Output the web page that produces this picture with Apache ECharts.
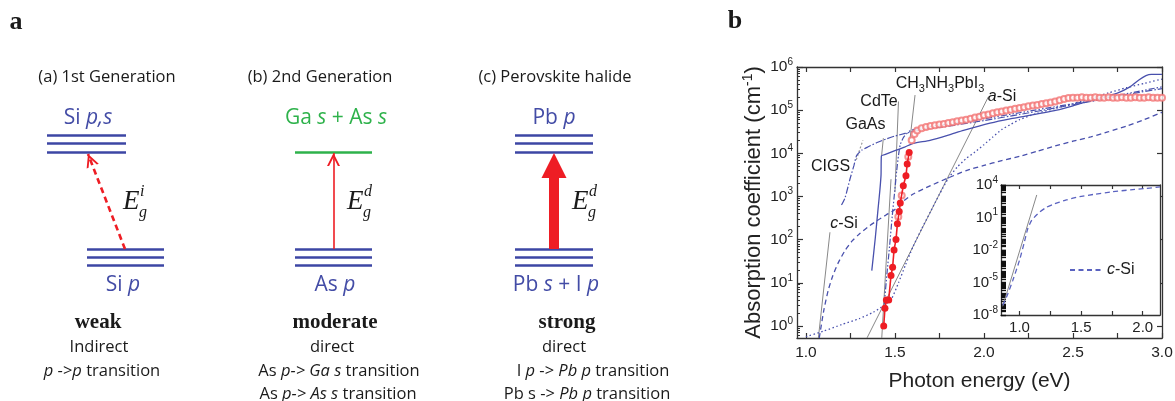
<!DOCTYPE html>
<html>
<head>
<meta charset="utf-8">
<title>Band structure and absorption edges</title>
<script src="https://cdn.jsdelivr.net/npm/echarts@6.0.0/dist/echarts.min.js"></script>
<style>
  html, body { margin: 0; padding: 0; background: #fff; }
  #chart { width: 1175px; height: 401px; }
</style>
</head>
<body>
<div id="chart"></div>
<script>
// ---- panel a: schematic levels ----
const diagramTitles = ['(a) 1st Generation', '(b) 2nd Generation', '(c) Perovskite halide'];
const upperStates = ['Si {i|p,s}', 'Ga {i|s} + As {i|s}', 'Pb {i|p}'];
const lowerStates = ['Si {i|p}', 'As {i|p}', 'Pb {i|s} + I {i|p}'];
const upperLineCount = [3, 1, 3];
const gapLabels = ['i', 'd', 'd'];
const strengths = ['weak', 'moderate', 'strong'];
const gapTypes = ['Indirect', 'direct', 'direct'];
const transitions = [
  ['{i|p} ->{i|p} transition'],
  ['As {i|p->} {i|Ga s} transition', 'As {i|p->} {i|As s} transition'],
  ['I {i|p} -> {i|Pb p} transition', 'Pb s -> {i|Pb p} transition']
];

// ---- panel b: [photon energy (eV), log10 absorption coefficient (cm-1)] ----
const energyLabels = [1.0, 1.5, 2.0, 2.5, 3.0];
const energyTicks = [1.0, 1.25, 1.5, 1.75, 2.0, 2.25, 2.5, 2.75, 3.0];
const decades = [0, 1, 2, 3, 4, 5, 6];
const insetEnergyLabels = [1.0, 1.5, 2.0];
const insetEnergyTicks = [1.0, 1.25, 1.5, 1.75, 2.0];
const insetDecades = [-8, -5, -2, 1, 4];

const cSi = [[1.075,-0.28],[1.10,0.35],[1.125,0.82],[1.15,1.15],[1.18,1.45],[1.22,1.75],[1.26,1.97],[1.30,2.13],[1.35,2.3],[1.40,2.44],[1.45,2.57],[1.50,2.7],[1.55,2.9],[1.60,3.05],[1.70,3.25],[1.80,3.43],[1.90,3.6],[2.00,3.72],[2.10,3.83],[2.20,3.93],[2.30,4.05],[2.40,4.17],[2.50,4.28],[2.60,4.38],[2.70,4.5],[2.80,4.63],[2.90,4.78],[3.00,4.95]];
const aSi = [[1.0,-0.25],[1.1,-0.12],[1.2,0.03],[1.3,0.17],[1.38,0.32],[1.44,0.48],[1.48,0.62],[1.52,1.0],[1.56,1.42],[1.6,1.82],[1.65,2.25],[1.7,2.65],[1.75,3.05],[1.8,3.42],[1.85,3.68],[1.9,3.88],[1.95,4.03],[2.0,4.2],[2.05,4.38],[2.1,4.55],[2.15,4.67],[2.2,4.78],[2.3,4.93],[2.4,5.04],[2.5,5.15],[2.6,5.27],[2.7,5.4],[2.8,5.52],[2.9,5.62],[3.0,5.72]];
const gaAs = [[1.37,1.28],[1.39,2.05],[1.405,2.7],[1.416,3.17],[1.422,3.5],[1.424,3.94],[1.45,3.98],[1.5,4.06],[1.557,4.15],[1.604,4.23],[1.697,4.3],[1.8,4.42],[1.885,4.53],[2.034,4.7],[2.147,4.8],[2.22,4.85],[2.409,5.0],[2.5,5.1],[2.596,5.22],[2.746,5.39],[2.82,5.54],[2.87,5.7],[2.91,5.8],[2.94,5.83],[3.0,5.83]];
const cdTe = [[1.44,0.5],[1.455,1.2],[1.47,1.85],[1.485,2.55],[1.5,3.17],[1.51,3.6],[1.52,3.95],[1.53,4.2],[1.55,4.38],[1.585,4.52],[1.66,4.6],[1.8,4.68],[1.9,4.73],[2.0,4.8],[2.2,4.94],[2.4,5.08],[2.6,5.22],[2.8,5.38],[3.0,5.54]];
const cigs = [[1.2,2.8],[1.22,2.97],[1.248,3.41],[1.27,3.72],[1.285,3.95],[1.313,4.07],[1.35,4.15],[1.4,4.25],[1.45,4.33],[1.5,4.4],[1.557,4.46],[1.65,4.55],[1.8,4.63],[2.0,4.76],[2.2,4.9],[2.4,5.05],[2.6,5.2],[2.8,5.36],[3.0,5.5]];
const mapiFilled = [[1.437,0.0],[1.444,0.41],[1.452,0.6],[1.465,0.6],[1.478,1.17],[1.487,1.36],[1.495,1.76],[1.506,2.0],[1.514,2.37],[1.524,2.65],[1.53,2.85],[1.547,3.25],[1.562,3.48],[1.569,3.75],[1.58,4.02]];
const mapiOpen = [[1.519,2.53],[1.538,3.02],[1.575,3.92],[1.594,4.3],[1.61,4.45],[1.625,4.53],[1.65,4.58],[1.675,4.61],[1.70,4.63],[1.725,4.65],[1.75,4.67],[1.775,4.68],[1.80,4.7],[1.825,4.72],[1.85,4.74],[1.875,4.76],[1.90,4.78],[1.925,4.8],[1.95,4.83],[1.975,4.85],[2.0,4.88],[2.025,4.9],[2.05,4.93],[2.075,4.95],[2.1,4.97],[2.125,4.99],[2.15,5.01],[2.175,5.03],[2.2,5.05],[2.225,5.07],[2.25,5.09],[2.275,5.11],[2.3,5.12],[2.325,5.14],[2.35,5.16],[2.375,5.18],[2.4,5.2],[2.425,5.23],[2.45,5.26],[2.475,5.28],[2.5,5.29],[2.525,5.29],[2.55,5.3],[2.575,5.29],[2.6,5.29],[2.625,5.3],[2.65,5.29],[2.675,5.29],[2.7,5.3],[2.725,5.29],[2.75,5.29],[2.775,5.3],[2.8,5.29],[2.825,5.29],[2.85,5.3],[2.875,5.29],[2.9,5.29],[2.925,5.3],[2.95,5.29],[2.975,5.29],[3.0,5.29]];
// thin grey guide / leader lines
const guides = [
  [[1.07,-0.28],[1.135,2.17]],
  [[1.343,-0.28],[2.025,5.31]],
  [[1.426,-0.28],[1.478,3.4]],
  [[1.50,3.1],[1.52,5.2]],
  [[1.425,3.94],[1.435,4.35]],
  [[1.585,4.34],[1.613,5.35]]
];
const cigsGuide = [[1.283,3.85],[1.32,4.3]];
// inset: c-Si down to 1e-8
const cSiInset = [[0.865,-7.1],[0.9,-6.2],[0.946,-4.8],[1.0,-2.95],[1.04,-1.25],[1.068,0.0],[1.1,0.75],[1.163,1.5],[1.22,1.95],[1.27,2.2],[1.38,2.62],[1.487,2.92],[1.6,3.13],[1.757,3.38],[1.9,3.55],[2.03,3.69],[2.14,3.82]];
const cSiInsetFit = [[0.864,-7.2],[1.14,3.08]];

const SANS_A = 'Open Sans';
const SANS_B = 'Liberation Sans';
const SERIF = 'Liberation Serif';
const BLUE = '#3c46a4';
const GREEN = '#2eb24b';
const RED = '#ee1d24';
const CURVE = '#4850ad';
const AX = '#333';
const TXT = '#1a1a1a';

function label(x, y, str, o) {
  o = o || {};
  const size = o.size || 16, family = o.family || SANS_A, color = o.color || TXT;
  const base = {fontSize: size, fontFamily: family, fill: color, fontWeight: o.weight || 'normal'};
  return {
    type: 'text', x: x, y: y, z: 100, silent: true,
    style: Object.assign({}, base, {
      text: str, fontStyle: o.style || 'normal',
      align: o.align || 'center', verticalAlign: 'middle',
      rich: {
        i: Object.assign({}, base, {fontStyle: 'italic'}),
        sub: Object.assign({}, base, {fontSize: Math.round(size * 0.66), padding: [Math.round(size * 0.6), 0, 0, 0]}),
        sup: Object.assign({}, base, {fontSize: Math.round(size * 0.66), padding: [0, 0, Math.round(size * 0.7), 0]})
      }
    })
  };
}

function logMinor(lo, hi) {
  const out = [];
  for (let n = Math.floor(lo) - 1; n <= Math.ceil(hi); n++) {
    for (let k = 1; k <= 9; k++) {
      const v = n + Math.log10(k);
      if (v >= lo && v <= hi) out.push(v);
    }
  }
  return out;
}

// layout of the three schematics (pixel-like units of the hidden grid)
const cols = [
  {title: 107, up: [47, 126], low: [87, 164], upLabel: 88, lowLabel: 123, tail: [125, 249], tip: [88, 154], E: 123, strength: 98, gap: 99, trans: [102]},
  {title: 320, up: [295, 372], low: [295, 372], upLabel: 336, lowLabel: 335, tail: [333.5, 249], tip: [333.5, 153], E: 347, strength: 335, gap: 332, trans: [339, 338]},
  {title: 555, up: [515, 593], low: [515, 593], upLabel: 554, lowLabel: 556, tail: [554, 249], tip: [554, 153], E: 572, strength: 567, gap: 564, trans: [593, 587]}
];

const levelSegs = [];
const graphics = [];
cols.forEach((c, i) => {
  const ups = upperLineCount[i] === 3 ? [135, 143.5, 152] : [152];
  ups.forEach(y => levelSegs.push({coords: [[c.up[0], y], [c.up[1], y]], lineStyle: {color: i === 1 ? GREEN : BLUE}}));
  [249, 257, 265].forEach(y => levelSegs.push({coords: [[c.low[0], y], [c.low[1], y]], lineStyle: {color: BLUE}}));

  graphics.push(label(c.title, 77, diagramTitles[i], {size: 16.5}));
  graphics.push(label(c.upLabel, 118, upperStates[i], {size: 21, color: i === 1 ? GREEN : '#434ca6'}));
  graphics.push(label(c.lowLabel, 285, lowerStates[i], {size: 21, color: '#434ca6'}));
  graphics.push(label(c.strength, 323, strengths[i], {size: 21, family: SERIF, weight: 'bold'}));
  graphics.push(label(c.gap, 347, gapTypes[i], {size: 16.5}));
  transitions[i].forEach((t, k) => graphics.push(label(c.trans[k], 371 + k * 23, t, {size: 16.5})));
  graphics.push(label(c.E, 202, 'E', {size: 27, family: SERIF, style: 'italic', align: 'left'}));
  graphics.push(label(c.E + 17, 192, gapLabels[i], {size: 16, family: SERIF, style: 'italic', align: 'left'}));
  graphics.push(label(c.E + 16, 213, 'g', {size: 16, family: SERIF, style: 'italic', align: 'left'}));
});
graphics.push(label(16, 22, 'a', {size: 26, family: SERIF, weight: 'bold'}));
graphics.push(label(735, 21, 'b', {size: 26, family: SERIF, weight: 'bold'}));
// material labels in panel b
graphics.push(label(940, 84, 'CH{sub|3}NH{sub|3}PbI{sub|3}', {size: 16, family: SANS_B}));
graphics.push(label(879, 102, 'CdTe', {size: 16, family: SANS_B}));
graphics.push(label(865.5, 125, 'GaAs', {size: 16, family: SANS_B}));
graphics.push(label(830.5, 167, 'CIGS', {size: 16, family: SANS_B}));
graphics.push(label(1002, 97, '{i|a}-Si', {size: 16, family: SANS_B}));
graphics.push(label(844, 224, '{i|c}-Si', {size: 16, family: SANS_B}));

function arrowHead(tail, tip, size) {
  const dx = tip[0] - tail[0], dy = tip[1] - tail[1], L = Math.hypot(dx, dy);
  const ux = dx / L, uy = dy / L;
  const c = [tip[0] - ux * size / 2, tip[1] - uy * size / 2];
  return {coords: [[c[0] - ux, c[1] - uy], c]};
}
const shaftData = [
  {coords: [cols[0].tail, cols[0].tip], lineStyle: {type: [6, 4], width: 2.6}},
  {coords: [cols[1].tail, cols[1].tip], lineStyle: {width: 1.6}},
  {coords: [cols[2].tail, [554, 166]], lineStyle: {width: 10}}
];
const CHEVRON = 'path://M0,10L5,0L10,10L8.4,10L5,3.2L1.6,10Z';

const tickStyle = {color: AX, width: 1.2};
const lineAx = {show: true, onZero: false, lineStyle: {color: AX, width: 1.3}};
const hiddenAx = {show: false, onZero: false};
const supRich = {s: {fontSize: 10, fontFamily: SANS_B, color: '#222', padding: [0, 0, 10, 0]}};

function curve(name, data, type, width, extra) {
  return Object.assign({
    name: name, type: 'line', xAxisIndex: 1, yAxisIndex: 1, data: data,
    showSymbol: false, symbol: 'none', smooth: 0.2,
    lineStyle: {color: CURVE, width: width || 1.2, type: type},
    itemStyle: {color: CURVE}, z: 3
  }, extra || {});
}

const option = {
  animation: false,
  backgroundColor: '#fff',
  textStyle: {fontFamily: SANS_B},
  grid: [
    {left: 0, top: 0, width: 600, height: 401, show: false, outerBoundsMode: 'none'},
    {left: 797, top: 67, width: 365, height: 271, show: false, outerBoundsMode: 'none'},
    {left: 1001, top: 185, width: 159, height: 130, show: true, backgroundColor: '#fff', borderWidth: 0, z: 10, outerBoundsMode: 'none'}
  ],
  legend: {
    data: ['c-Si'], left: 1064, top: 257, itemWidth: 32, itemHeight: 10, z: 30,
    itemStyle: {opacity: 0},
    formatter: () => '{i|c}-Si',
    textStyle: {fontFamily: SANS_B, fontSize: 16, color: '#222', rich: {i: {fontStyle: 'italic', fontFamily: SANS_B, fontSize: 16, color: '#222'}}}
  },
  xAxis: [
    {gridIndex: 0, type: 'value', min: 0, max: 600, show: false},
    {gridIndex: 1, type: 'value', min: 0.95, max: 3.0, position: 'bottom', axisLine: lineAx,
      axisTick: {inside: true, length: 5, customValues: energyTicks, lineStyle: tickStyle},
      axisLabel: {customValues: energyLabels, formatter: v => v.toFixed(1), fontSize: 15.5, color: '#222', margin: 7, fontFamily: SANS_B},
      splitLine: {show: false},
      name: 'Photon energy (eV)', nameLocation: 'middle', nameGap: 33,
      nameTextStyle: {fontSize: 21, color: '#222', fontFamily: SANS_B}},
    {gridIndex: 1, type: 'value', min: 0.95, max: 3.0, position: 'top', axisLine: lineAx,
      axisTick: {inside: true, length: 5, customValues: energyTicks, lineStyle: tickStyle},
      axisLabel: {show: false}, splitLine: {show: false}},
    {gridIndex: 2, type: 'value', min: 0.85, max: 2.14, position: 'bottom', z: 12, axisLine: lineAx,
      axisTick: {inside: true, length: 4, customValues: insetEnergyTicks, lineStyle: tickStyle},
      axisLabel: {customValues: insetEnergyLabels, formatter: v => v.toFixed(1), fontSize: 15, color: '#222', margin: 5, fontFamily: SANS_B},
      splitLine: {show: false}},
    {gridIndex: 2, type: 'value', min: 0.85, max: 2.14, position: 'top', z: 12, axisLine: lineAx,
      axisTick: {inside: true, length: 4, customValues: insetEnergyTicks, lineStyle: tickStyle},
      axisLabel: {show: false}, splitLine: {show: false}}
  ],
  yAxis: [
    {gridIndex: 0, type: 'value', min: 0, max: 401, inverse: true, show: false},
    {gridIndex: 1, type: 'value', min: -0.28, max: 6, position: 'left', axisLine: lineAx,
      axisTick: {inside: true, length: 6, customValues: decades, lineStyle: tickStyle},
      axisLabel: {customValues: decades, formatter: v => '10{s|' + v + '}', fontSize: 15.5, color: '#222', margin: 4, fontFamily: SANS_B, rich: supRich},
      splitLine: {show: false},
      name: 'Absorption coefficient (cm{s|-1})', nameLocation: 'middle', nameGap: 30,
      nameTextStyle: {fontSize: 22, color: '#222', fontFamily: SANS_B, rich: {s: {fontSize: 14, fontFamily: SANS_B, color: '#222', padding: [0, 0, 12, 0]}}}},
    {gridIndex: 1, type: 'value', min: -0.28, max: 6, position: 'left', axisLine: hiddenAx,
      axisTick: {inside: true, length: 3, customValues: logMinor(-0.28, 6), lineStyle: {color: AX, width: 1}},
      axisLabel: {show: false}, splitLine: {show: false}},
    {gridIndex: 1, type: 'value', min: -0.28, max: 6, position: 'right', axisLine: lineAx,
      axisTick: {inside: true, length: 5, customValues: decades, lineStyle: tickStyle},
      axisLabel: {show: false}, splitLine: {show: false}},
    {gridIndex: 2, type: 'value', min: -8, max: 4, position: 'left', z: 12, axisLine: lineAx,
      axisTick: {inside: true, length: 5, customValues: insetDecades, lineStyle: tickStyle},
      axisLabel: {customValues: insetDecades, formatter: v => '10{s|' + v + '}', fontSize: 15, color: '#222', margin: 3, fontFamily: SANS_B, rich: supRich},
      splitLine: {show: false}},
    {gridIndex: 2, type: 'value', min: -8, max: 4, position: 'left', z: 12, axisLine: hiddenAx,
      axisTick: {inside: true, length: 5, customValues: logMinor(-8, 4), lineStyle: {color: '#111', width: 1.3}},
      axisLabel: {show: false}, splitLine: {show: false}},
    {gridIndex: 2, type: 'value', min: -8, max: 4, position: 'right', z: 12, axisLine: lineAx,
      axisTick: {show: false}, axisLabel: {show: false}, splitLine: {show: false}}
  ],
  graphic: graphics,
  series: [
    // panel a
    {name: 'levels', type: 'lines', coordinateSystem: 'cartesian2d', xAxisIndex: 0, yAxisIndex: 0,
      data: levelSegs, lineStyle: {width: 2.6, opacity: 1}, symbol: 'none', silent: true},
    {name: 'shafts', type: 'lines', coordinateSystem: 'cartesian2d', xAxisIndex: 0, yAxisIndex: 0,
      data: shaftData, lineStyle: {color: RED, opacity: 1}, symbol: 'none', silent: true},
    {name: 'heads', type: 'lines', coordinateSystem: 'cartesian2d', xAxisIndex: 0, yAxisIndex: 0,
      data: [arrowHead(cols[0].tail, cols[0].tip, 13), arrowHead(cols[1].tail, cols[1].tip, 13)],
      lineStyle: {color: RED, opacity: 1, width: 1}, symbol: ['none', CHEVRON], symbolSize: 13, silent: true},
    {name: 'headBig', type: 'lines', coordinateSystem: 'cartesian2d', xAxisIndex: 0, yAxisIndex: 0,
      data: [arrowHead(cols[2].tail, cols[2].tip, 25)],
      lineStyle: {color: RED, opacity: 1, width: 1}, symbol: ['none', 'triangle'], symbolSize: 25, silent: true},
    // panel b main
    {name: 'guides', type: 'lines', coordinateSystem: 'cartesian2d', xAxisIndex: 1, yAxisIndex: 1,
      data: guides.map(g => ({coords: g})), lineStyle: {color: '#888', width: 1, opacity: 1}, symbol: 'none', z: 2, silent: true},
    {name: 'cigsGuide', type: 'lines', coordinateSystem: 'cartesian2d', xAxisIndex: 1, yAxisIndex: 1,
      data: [{coords: cigsGuide}], lineStyle: {color: '#999', width: 1.2, type: [2, 2], opacity: 1}, symbol: 'none', z: 2, silent: true},
    curve('c-Si-main', cSi, [5, 3.5], 1.3),
    curve('a-Si', aSi, [1.5, 2.5], 1.3),
    curve('GaAs', gaAs, 'solid', 1.3),
    curve('CdTe', cdTe, [6, 2, 1.5, 2, 1.5, 2], 1.2),
    curve('CIGS', cigs, [7, 2, 1.5, 2], 1.2),
    {name: 'MAPbI3 open', type: 'scatter', xAxisIndex: 1, yAxisIndex: 1, data: mapiOpen,
      symbol: 'emptyCircle', symbolSize: 6, itemStyle: {color: '#f27474', borderWidth: 1.1}, z: 4},
    {name: 'MAPbI3', type: 'line', xAxisIndex: 1, yAxisIndex: 1, data: mapiFilled,
      symbol: 'circle', symbolSize: 7, showSymbol: true, lineStyle: {color: RED, width: 1.6},
      itemStyle: {color: RED}, z: 5},
    // inset
    {name: 'c-Si fit', type: 'line', xAxisIndex: 3, yAxisIndex: 4, data: cSiInsetFit, symbol: 'none',
      lineStyle: {color: '#888', width: 1}, z: 12},
    {name: 'c-Si', type: 'line', xAxisIndex: 3, yAxisIndex: 4, data: cSiInset, symbol: 'none', smooth: 0.2,
      lineStyle: {color: '#5a62c0', width: 1.3, type: [5, 3.5]}, itemStyle: {color: '#5a62c0'}, z: 13}
  ]
};

const chart = echarts.init(document.getElementById('chart'));
chart.setOption(option);
</script>
</body>
</html>
